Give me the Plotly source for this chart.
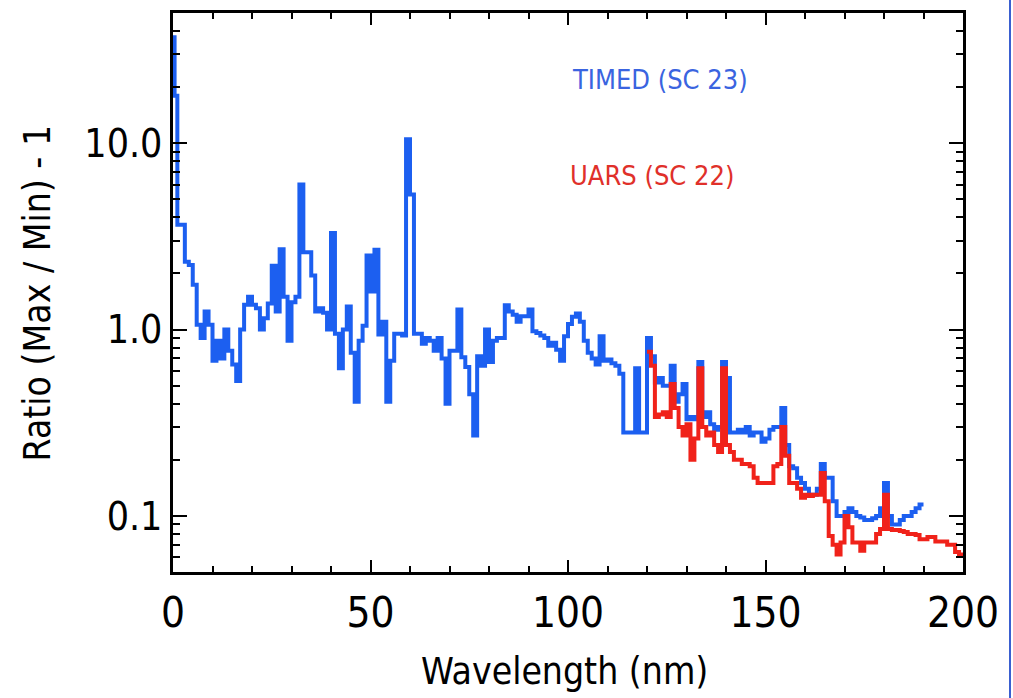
import numpy as np
import plotly.graph_objects as go

# ---------------- data ----------------
# TIMED (SC 23): bin left edges (nm) and ratio values
blue_start = [0, 0.4, 1.1] + list(range(2, 190))
blue_end = 190
blue_ratio = [37, 18, 3.65, 3.65, 2.31, 2.22, 1.74, 1.06, 0.9, 1.25, 1.06,
              0.68, 0.87, 0.7, 1.0, 0.77, 0.65, 0.53, 1.0, 1.36, 1.5,
              1.36, 1.3, 1.0, 1.15, 1.38, 2.2, 1.25, 2.7, 1.5, 0.87,
              1.4, 1.5, 6.0, 2.6, 2.6, 1.95, 1.25, 1.3, 1.23, 1.0,
              3.3, 0.95, 0.62, 1.0, 1.33, 0.75, 0.41, 0.87, 1.05, 2.5,
              1.6, 2.68, 0.94, 1.1, 0.41, 0.68, 0.95, 0.95, 0.93, 10.5,
              5.3, 0.95, 0.95, 0.84, 0.9, 0.87, 0.77, 0.9, 0.7, 0.4,
              0.77, 0.77, 1.28, 0.71, 0.63, 0.45, 0.27, 0.72, 0.64, 1.0,
              0.67, 0.87, 0.9, 0.9, 1.35, 1.25, 1.2, 1.1, 1.18, 1.18,
              1.28, 0.98, 0.96, 0.93, 0.9, 0.82, 0.85, 0.78, 0.68, 0.92,
              1.07, 1.17, 1.22, 1.1, 0.87, 0.75, 0.7, 0.65, 0.92, 0.68,
              0.69, 0.66, 0.64, 0.58, 0.28, 0.28, 0.28, 0.62, 0.28, 0.28,
              0.9, 0.72, 0.52, 0.55, 0.5, 0.5, 0.64, 0.41, 0.45, 0.51,
              0.33, 0.34, 0.33, 0.67, 0.34, 0.36, 0.31, 0.29, 0.3, 0.67,
              0.55, 0.28, 0.28, 0.29, 0.28, 0.3, 0.27, 0.28, 0.28, 0.25,
              0.26, 0.29, 0.3, 0.3, 0.38, 0.24, 0.185, 0.18, 0.16, 0.15,
              0.14, 0.13, 0.13, 0.14, 0.19, 0.16, 0.16, 0.12, 0.1, 0.1,
              0.105, 0.11, 0.105, 0.1, 0.098, 0.095, 0.095, 0.097, 0.1, 0.11,
              0.15, 0.1, 0.09, 0.09, 0.095, 0.1, 0.1, 0.105, 0.11, 0.115]

# UARS (SC 22): bin left edges (nm) and ratio values
red_start = list(range(120, 200))
red_end = 200
red_ratio = [0.76, 0.64, 0.34, 0.35, 0.36, 0.34, 0.51, 0.38, 0.3, 0.27,
             0.31, 0.2, 0.26, 0.62, 0.3, 0.27, 0.28, 0.24, 0.22, 0.62,
             0.24, 0.22, 0.2, 0.2, 0.19, 0.19, 0.185, 0.16, 0.15, 0.15,
             0.15, 0.15, 0.185, 0.19, 0.3, 0.21, 0.15, 0.15, 0.14, 0.125,
             0.13, 0.128, 0.13, 0.13, 0.17, 0.12, 0.078, 0.07, 0.062, 0.072,
             0.1, 0.087, 0.072, 0.072, 0.065, 0.072, 0.072, 0.072, 0.08, 0.085,
             0.13, 0.085, 0.084, 0.084, 0.083, 0.082, 0.08, 0.08, 0.079, 0.075,
             0.075, 0.077, 0.077, 0.073, 0.073, 0.073, 0.07, 0.07, 0.064, 0.062]

x_ticks = [0, 50, 100, 150, 200]
y_ticks = [0.1, 1.0, 10.0]
y_tick_text = ["0.1", "1.0", "10.0"]
y_minor = [m * 10.0 ** e for e in (-2, -1, 0, 1) for m in range(2, 10)]

labels = ["TIMED (SC 23)", "UARS (SC 22)"]

BLUE = "#1c5ff0"
RED = "#f0221a"
FONT = "Liberation Sans Narrow, DejaVu Sans Condensed, Arial Narrow, Liberation Sans, sans-serif"

def steps(start, end, vals):
    return list(start) + [end], list(vals) + [vals[-1]]

bx, by = steps(blue_start, blue_end, blue_ratio)
rx, ry = steps(red_start, red_end, red_ratio)

fig = go.Figure()
fig.add_trace(go.Scatter(x=bx, y=by, mode="lines", line=dict(color=BLUE, width=4, shape="hv"),
                         name=labels[0], showlegend=False))
fig.add_trace(go.Scatter(x=rx, y=ry, mode="lines", line=dict(color=RED, width=4, shape="hv"),
                         name=labels[1], showlegend=False))

fig.update_layout(
    width=1013, height=698,
    margin=dict(l=173, r=50, t=10, b=126),
    paper_bgcolor="white", plot_bgcolor="white",
    font=dict(family=FONT, color="black"),
    xaxis=dict(range=[0, 200], tickvals=x_ticks, ticks="inside", ticklen=12, tickwidth=2,
               tickcolor="black", showline=True, linecolor="black", linewidth=2.5,
               mirror="ticks", showgrid=False, zeroline=False,
               tickfont=dict(size=42, family=FONT), ticklabelstandoff=2,
               minor=dict(dtick=10, ticks="inside", ticklen=6, tickwidth=2, tickcolor="black",
                          showgrid=False)),
    yaxis=dict(type="log", range=[np.log10(0.05), np.log10(50)], tickvals=y_ticks,
               ticktext=y_tick_text, ticks="inside", ticklen=14, tickwidth=2,
               tickcolor="black", showline=True, linecolor="black", linewidth=2.5,
               mirror="ticks", showgrid=False, zeroline=False,
               tickfont=dict(size=39, family=FONT), ticklabelstandoff=0,
               minor=dict(tickvals=y_minor, ticks="inside", ticklen=7, tickwidth=2,
                          tickcolor="black", showgrid=False)),
)

fig.add_annotation(x=100.5, y=np.log10(21.9), text=labels[0], showarrow=False,
                   xanchor="left", yanchor="middle", font=dict(size=27, color="#3a64e0", family=FONT))
fig.add_annotation(x=100.0, y=np.log10(6.75), text=labels[1], showarrow=False,
                   xanchor="left", yanchor="middle", font=dict(size=27, color="#e0302a", family=FONT))

fig.add_annotation(xref="paper", yref="paper", x=0.496, y=-0.178, text="Wavelength (nm)",
                   showarrow=False, xanchor="center", yanchor="middle",
                   font=dict(size=37, family=FONT))
fig.add_annotation(xref="paper", yref="paper", x=-0.171, y=0.5, text="Ratio (Max / Min) - 1",
                   showarrow=False, xanchor="center", yanchor="middle", textangle=-90,
                   font=dict(size=37, family=FONT))

fig.add_shape(type="line", xref="paper", yref="paper", x0=1.0595, x1=1.0595, y0=-0.25, y1=1.05,
              line=dict(color="#3a5fd0", width=2))

fig.write_html("out.html")
